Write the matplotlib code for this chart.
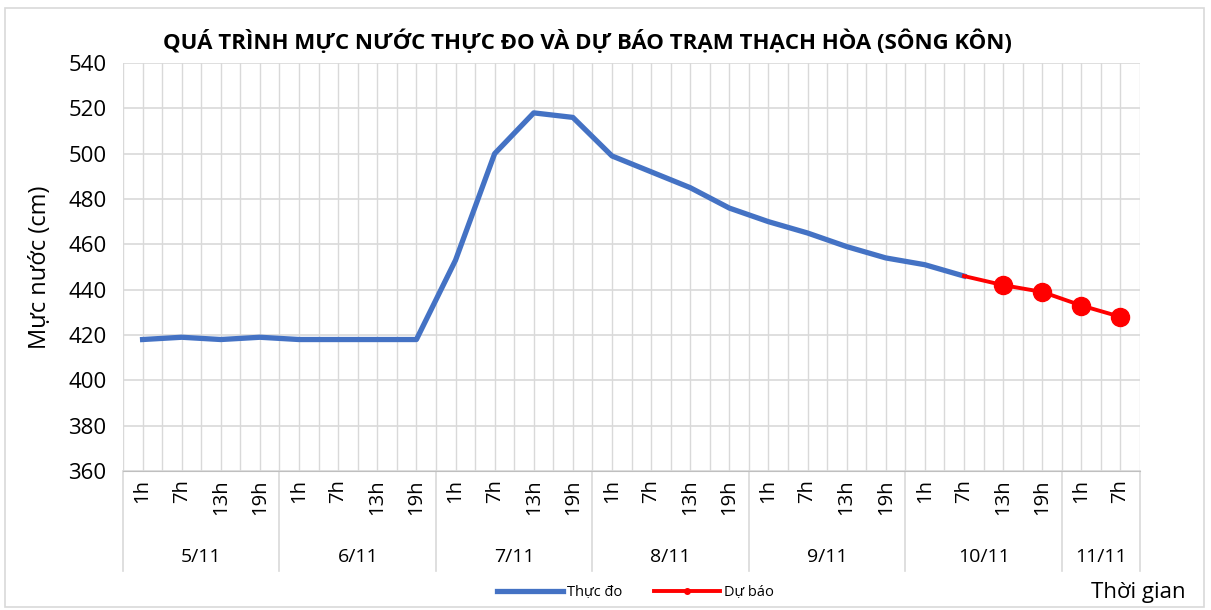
import numpy as np
import matplotlib.pyplot as plt
from matplotlib.patches import Rectangle

plt.rcParams['font.family'] = ['Open Sans', 'DejaVu Sans']

days = ['5/11', '6/11', '7/11', '8/11', '9/11', '10/11', '11/11']
hours_per_day = [4, 4, 4, 4, 4, 4, 2]
hour_labels = ['1h', '7h', '13h', '19h'] * 6 + ['1h', '7h']

# measured water level (cm), up to 7h 10/11
observed = [418, 419, 418, 419, 418, 418, 418, 418,
            453, 500, 518, 516, 499, 492, 485, 476,
            470, 465, 459, 454, 451, 446]
# forecast starts at the last observed point
forecast = [446, 442, 439, 433, 428]

blue = '#4472C4'
red = '#FF0000'
grid_c = '#D9D9D9'

fig = plt.figure(figsize=(12.11, 6.10), dpi=100)
fig.patches.append(Rectangle((0.004, 0.005), 0.99, 0.982, transform=fig.transFigure,
                             fill=False, edgecolor='#D9D9D9', linewidth=1.2))
ax = fig.add_axes([0.1016, 0.2279, 0.8398, 0.6688])

n = len(hour_labels)
x = np.arange(n)
x_obs = x[:len(observed)]
x_fc = x[len(observed) - 1:len(observed) - 1 + len(forecast)]

ax.plot(x_obs, observed, color=blue, lw=3.8, solid_joinstyle='round', label='Thực đo', zorder=3)
ax.plot(x_fc, forecast, color=red, lw=2.8, marker='o', ms=4, markevery=[2],
        label='Dự báo', zorder=4)
ax.plot(x_fc[1:], forecast[1:], 'o', color=red, ms=13, zorder=5)

ax.set_xlim(-0.5, n - 0.5)
ax.set_ylim(360, 540)
ax.set_yticks(np.arange(360, 541, 20))
ax.tick_params(axis='y', labelsize=16, length=0, pad=12)

# vertical gridlines at every half category
for v in np.arange(-0.5, n, 0.5):
    ax.axvline(v, color=grid_c, lw=1, zorder=1)
ax.grid(axis='y', color=grid_c, lw=1.2, zorder=1)
for s in ax.spines.values():
    s.set_visible(False)
ax.spines['bottom'].set_visible(True)
ax.spines['bottom'].set_color('#BFBFBF')

ax.set_xticks(x)
ax.set_xticklabels(hour_labels, rotation=90, fontsize=14.5)
ax.tick_params(axis='x', length=0, pad=6)

# day group labels and separators
trans = ax.get_xaxis_transform()
start = 0
bounds = [-0.5]
for d, k in zip(days, hours_per_day):
    mid = start + (k - 1) / 2
    ax.text(mid, -0.21, d, transform=trans, ha='center', va='center', fontsize=14)
    start += k
    bounds.append(start - 0.5)
for b in bounds:
    ax.plot([b, b], [0, -0.245], transform=trans, color=grid_c, lw=1.2, clip_on=False)

fig.text(0.485, 0.931, 'QUÁ TRÌNH MỰC NƯỚC THỰC ĐO VÀ DỰ BÁO TRẠM THẠCH HÒA (SÔNG KÔN)',
         ha='center', va='center', fontsize=16, fontweight='bold')
fig.text(0.033, 0.562, 'Mực nước (cm)', rotation=90, ha='center', va='center', fontsize=17)
fig.text(0.940, 0.028, 'Thời gian', ha='center', va='center', fontsize=16)

leg = ax.legend(loc='center', bbox_to_anchor=(0.504, -0.297), ncol=2, frameon=False,
                fontsize=10.5, handlelength=4.5, columnspacing=2.2, handletextpad=0.3)

fig.savefig('out.png', dpi=100)
